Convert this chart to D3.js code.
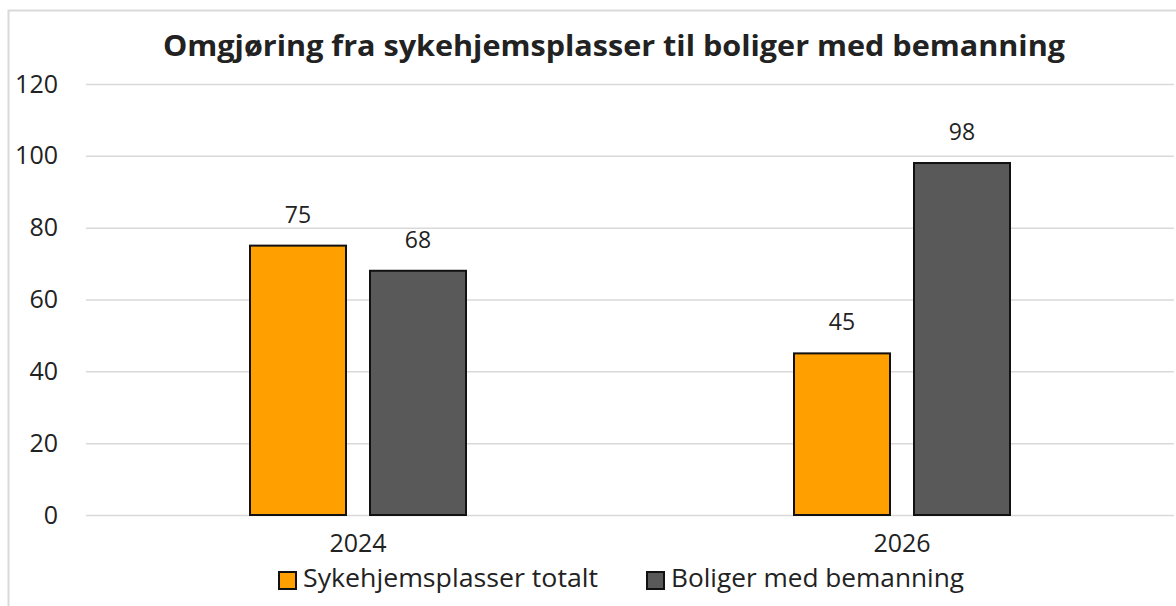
<!DOCTYPE html>
<html>
<head>
<meta charset="utf-8">
<script src="https://cdn.jsdelivr.net/npm/d3@7"></script>
<style>
  body { margin: 0; background: #fff; }
  text { font-family: "Open Sans", "Liberation Sans", sans-serif; fill: #222; }
</style>
</head>
<body>
<div id="chart"></div>
<script>
const years = ['2024', '2026'];
const seriesNames = ['Sykehjemsplasser totalt', 'Boliger med bemanning'];
const seriesColors = ['#ffa000', '#595959'];
const sykehjem = [75, 45];
const boliger = [68, 98];
const yTicks = [0, 20, 40, 60, 80, 100, 120];

const width = 1176, height = 606;
const margin = { left: 86, right: 2, top: 84, bottom: 91 };

const svg = d3.select('#chart').append('svg')
    .attr('width', width)
    .attr('height', height);

// chart frame
svg.append('rect')
    .attr('x', 8.5).attr('y', 10.5)
    .attr('width', width).attr('height', height)
    .attr('fill', 'none')
    .attr('stroke', '#d9d9d9')
    .attr('stroke-width', 2);

const x = d3.scaleBand()
    .domain(years)
    .range([margin.left, width - margin.right]);

const inner = d3.scaleBand()
    .domain([0, 1])
    .range([-108, 108])
    .paddingInner(0.2);

const y = d3.scaleLinear()
    .domain([0, 120])
    .range([height - margin.bottom, margin.top]);

// gridlines
svg.append('g')
    .selectAll('line')
    .data(yTicks)
    .join('line')
    .attr('x1', margin.left)
    .attr('x2', width - margin.right)
    .attr('y1', d => y(d) + 0.5)
    .attr('y2', d => y(d) + 0.5)
    .attr('stroke', '#d9d9d9')
    .attr('stroke-width', 1.5);

// y axis labels
const yAxis = d3.axisLeft(y).tickValues(yTicks).tickSize(0).tickPadding(0);
svg.append('g')
    .attr('transform', 'translate(58,0)')
    .call(yAxis)
    .call(g => g.select('.domain').remove())
    .selectAll('text')
    .attr('font-size', 25)
    .attr('font-family', '"Open Sans", sans-serif')
    .attr('fill', '#222');

// x axis labels
const xAxis = d3.axisBottom(x).tickSize(0).tickPadding(0);
svg.append('g')
    .attr('transform', 'translate(0,' + 534 + ')')
    .call(xAxis)
    .call(g => g.select('.domain').remove())
    .selectAll('text')
    .attr('font-size', 25)
    .attr('font-family', '"Open Sans", sans-serif')
    .attr('fill', '#222');

const data = [sykehjem, boliger];

const groups = svg.append('g')
    .selectAll('g')
    .data(years)
    .join('g')
    .attr('transform', d => `translate(${x(d) + x.bandwidth() / 2},0)`);

groups.selectAll('rect')
    .data((d, i) => data.map((s, k) => ({ k, v: s[i] })))
    .join('rect')
    .attr('x', d => inner(d.k))
    .attr('width', inner.bandwidth())
    .attr('y', d => y(d.v))
    .attr('height', d => y(0) - y(d.v))
    .attr('fill', d => seriesColors[d.k])
    .attr('stroke', '#111')
    .attr('stroke-width', 2);

groups.selectAll('text.lbl')
    .data((d, i) => data.map((s, k) => ({ k, v: s[i] })))
    .join('text')
    .attr('class', 'lbl')
    .attr('x', d => inner(d.k) + inner.bandwidth() / 2)
    .attr('y', d => y(d.v) - 23)
    .attr('text-anchor', 'middle')
    .attr('font-size', 23)
    .text(d => d.v);

// title
svg.append('text')
    .attr('x', 614)
    .attr('y', 56)
    .attr('text-anchor', 'middle')
    .attr('font-size', 29)
    .attr('font-weight', 'bold')
    .attr('textLength', 902)
    .attr('lengthAdjust', 'spacingAndGlyphs')
    .text('Omgjøring fra sykehjemsplasser til boliger med bemanning');

// legend
const legendX = [278, 646];
const legendW = [295, 293];
const legend = svg.append('g')
    .selectAll('g')
    .data(seriesNames)
    .join('g')
    .attr('transform', (d, i) => `translate(${legendX[i]},571)`);

legend.append('rect')
    .attr('x', 1).attr('y', 1)
    .attr('width', 17).attr('height', 17)
    .attr('fill', (d, i) => seriesColors[i])
    .attr('stroke', '#111')
    .attr('stroke-width', 2);

legend.append('text')
    .attr('x', 25)
    .attr('y', 16)
    .attr('font-size', 26)
    .attr('textLength', (d, i) => legendW[i])
    .attr('lengthAdjust', 'spacingAndGlyphs')
    .text(d => d);
</script>
</body>
</html>
